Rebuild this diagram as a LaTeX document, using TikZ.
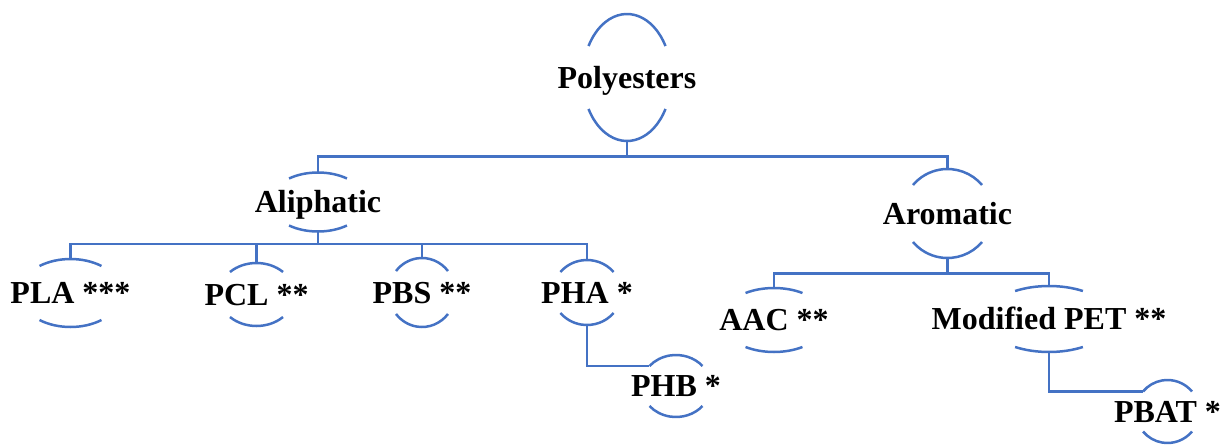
\documentclass[tikz,border=0pt]{standalone}
\usepackage{fontspec}
\setmainfont{Liberation Serif}
\usetikzlibrary{shapes.geometric}
\definecolor{ringblue}{HTML}{4472C4}

% top and bottom arcs of a ring: node, x radius, y radius, half angle
\newcommand\halo[4]{%
  \draw[ringline] (#1.center) ++(#4:#2 and #3)
    arc[start angle=#4, end angle=180-#4, x radius=#2, y radius=#3];
  \draw[ringline] (#1.center) ++(-#4:#2 and #3)
    arc[start angle=-#4, end angle=-180+#4, x radius=#2, y radius=#3];
}

\begin{document}
\begin{tikzpicture}[x=0.5pt, y=0.5pt,
    ring/.style 2 args={ellipse, inner sep=0pt, minimum width=#1pt, minimum height=#2pt},
    ringtext/.style={font=\fontsize{16}{19}\selectfont\bfseries, text=black, inner sep=0pt,
                     text height=10.6pt, text depth=0pt},
    ringline/.style={ringblue, line width=1.25pt},
    link/.style={ringblue, line width=1.25pt}
  ]
    \useasboundingbox (0,0) rectangle (1228,-445);

    \node[ring={44.3}{63.5}, label={[ringtext]center:Polyesters}] (poly) at (627,-77.5) {};
    \node[ring={47.9}{29.5}, label={[ringtext]center:Aliphatic}]  (ali)  at (318,-202) {};
    \node[ring={44.9}{44.5}, label={[ringtext]center:Aromatic}]   (aro)  at (947.5,-213.5) {};

    \node[ring={51}{34},     label={[ringtext]center:PLA ***}] (pla) at (70.5,-293) {};
    \node[ring={37.9}{31.5}, label={[ringtext]center:PCL **}]  (pcl) at (256.5,-294.5) {};
    \node[ring={33.2}{34.5}, label={[ringtext]center:PBS **}]  (pbs) at (422,-292.5) {};
    \node[ring={34.2}{32.5}, label={[ringtext]center:PHA *}]   (pha) at (587,-292.5) {};
    \node[ring={34.7}{31},   label={[ringtext]center:PHB *}]   (phb) at (676,-386) {};

    \node[ring={53}{32},     label={[ringtext]center:AAC **}]          (aac)  at (774,-320) {};
    \node[ring={64}{33},     label={[ringtext]center:Modified PET **}] (pet)  at (1049,-319) {};
    \node[ring={31.7}{31.5}, label={[ringtext]center:PBAT *}]          (pbat) at (1167.5,-411.5) {};

    \halo{poly}{44.3}{63.5}{29.7}
    \halo{ali}{47.9}{29.5}{52.8}
    \halo{aro}{44.9}{44.5}{39.8}
    \halo{pla}{51}{34}{52.6}
    \halo{pcl}{37.9}{31.5}{45.6}
    \halo{pbs}{33.2}{34.5}{38.5}
    \halo{pha}{34.2}{32.5}{39.1}
    \halo{phb}{34.7}{31}{40.2}
    \halo{aac}{53}{32}{57.5}
    \halo{pet}{64}{33}{58}
    \halo{pbat}{31.7}{31.5}{39.4}

    \draw[link] (poly.south) -- ++(0,-15) -| (ali.north);
    \draw[link] (poly.south) -- ++(0,-15) -| (aro.north);

    \draw[link] (ali.south) -- ++(0,-12) -| (pla.north);
    \draw[link] (ali.south) -- ++(0,-12) -| (pcl.north);
    \draw[link] (ali.south) -- ++(0,-12) -| (pbs.north);
    \draw[link] (ali.south) -- ++(0,-12) -| (pha.north);
    \draw[link] (pha.south) |- (phb.143);

    \draw[link] (aro.south) -- ++(0,-15) -| (aac.north);
    \draw[link] (aro.south) -- ++(0,-15) -| (pet.north);
    \draw[link] (pet.south) |- (pbat.141);
\end{tikzpicture}
\end{document}
